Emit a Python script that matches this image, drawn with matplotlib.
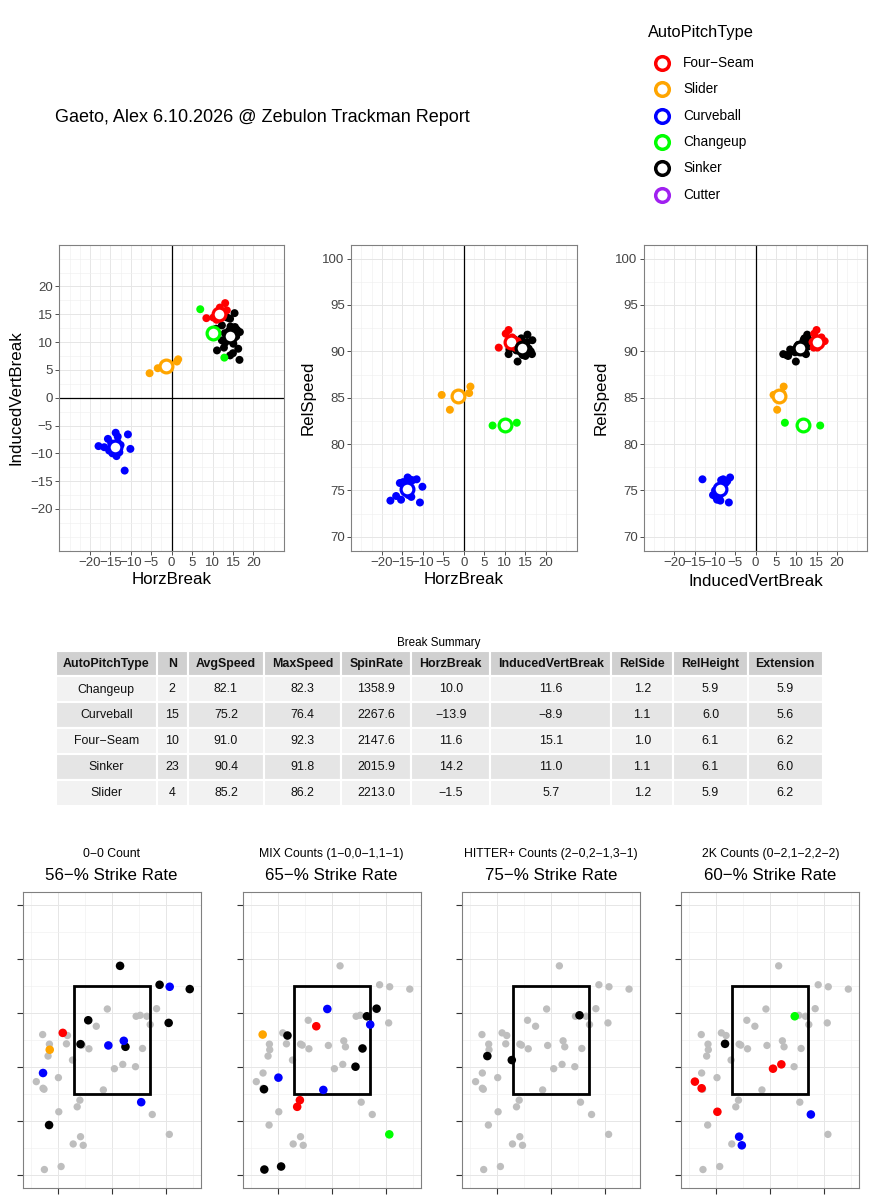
import matplotlib
matplotlib.use("Agg")
import matplotlib.pyplot as plt
from matplotlib.patches import Rectangle
from matplotlib.ticker import FixedLocator
import numpy as np

plt.rcParams['font.family'] = ['Liberation Sans', 'DejaVu Sans']
plt.rcParams['axes.unicode_minus'] = True

# ---------------- data ----------------
TITLE = "Gaeto, Alex 6.10.2026 @ Zebulon Trackman Report"
legend_types = ["Four−Seam", "Slider", "Curveball", "Changeup", "Sinker", "Cutter"]
type_colors = {"Four−Seam": "#FF0000", "Slider": "#FFA500", "Curveball": "#0000FF",
               "Changeup": "#00FF00", "Sinker": "#000000", "Cutter": "#A020F0"}

# pitch-level break data (HorzBreak, InducedVertBreak, RelSpeed)
changeup_hb = [7.0, 12.9]
changeup_ivb = [15.9, 7.2]
changeup_velo = [82.0, 82.3]

curveball_hb = [-17.9, -16.5, -15.3, -15.6, -14.8, -13.7, -13.2, -12.5, -11.5, -10.7, -10.1, -13.5, -14.5, -12.8, -13.2]
curveball_ivb = [-8.7, -8.9, -9.5, -7.4, -8.2, -6.3, -8.0, -8.5, -13.1, -6.6, -9.2, -10.5, -10.0, -9.8, -7.0]
curveball_velo = [73.9, 74.4, 74.0, 75.8, 75.9, 76.4, 76.2, 76.1, 76.2, 73.7, 75.4, 74.5, 75.0, 74.3, 76.0]

fourseam_hb = [8.5, 10.2, 10.9, 13.1, 13.5, 11.8, 12.0, 11.0, 12.5, 12.2]
fourseam_ivb = [14.3, 14.4, 15.0, 17.0, 15.7, 16.2, 14.8, 14.0, 15.2, 14.6]
fourseam_velo = [90.4, 91.9, 92.3, 91.1, 90.8, 91.5, 90.6, 91.0, 90.4, 90.9]

sinker_hb = [15.4, 14.3, 12.3, 11.1, 16.6, 14.3, 16.3, 15.5, 16.7, 12.3, 15.1, 13.1,
             10.9, 14.0, 13.5, 15.8, 16.0, 13.0, 12.8, 14.8, 13.6, 15.0, 14.4]
sinker_ivb = [15.2, 14.2, 13.0, 8.5, 6.8, 7.6, 8.8, 12.7, 11.8, 10.3, 9.7, 9.9,
              12.4, 12.0, 11.5, 11.0, 12.2, 11.6, 9.0, 10.5, 14.4, 8.0, 12.8]
sinker_velo = [91.0, 90.8, 91.3, 90.2, 89.7, 89.6, 90.0, 91.8, 91.2, 90.5, 89.9, 88.9,
               89.7, 91.4, 90.6, 90.3, 89.8, 90.9, 90.1, 90.7, 91.1, 89.5, 90.5]

slider_hb = [-5.4, -3.4, 1.3, 1.6]
slider_ivb = [4.4, 5.3, 6.5, 6.9]
slider_velo = [85.3, 83.7, 85.5, 86.2]

break_data = {
    "Sinker": (sinker_hb, sinker_ivb, sinker_velo),
    "Curveball": (curveball_hb, curveball_ivb, curveball_velo),
    "Slider": (slider_hb, slider_ivb, slider_velo),
    "Four−Seam": (fourseam_hb, fourseam_ivb, fourseam_velo),
    "Changeup": (changeup_hb, changeup_ivb, changeup_velo),
}

# summary table
tbl_columns = ["AutoPitchType", "N", "AvgSpeed", "MaxSpeed", "SpinRate", "HorzBreak",
               "InducedVertBreak", "RelSide", "RelHeight", "Extension"]
tbl_types = ["Changeup", "Curveball", "Four−Seam", "Sinker", "Slider"]
tbl_n = [2, 15, 10, 23, 4]
tbl_avgspeed = [82.1, 75.2, 91.0, 90.4, 85.2]
tbl_maxspeed = [82.3, 76.4, 92.3, 91.8, 86.2]
tbl_spin = [1358.9, 2267.6, 2147.6, 2015.9, 2213.0]
tbl_hb = [10.0, -13.9, 11.6, 14.2, -1.5]
tbl_ivb = [11.6, -8.9, 15.1, 11.0, 5.7]
tbl_relside = [1.2, 1.1, 1.0, 1.1, 1.2]
tbl_relheight = [5.9, 6.0, 6.1, 6.1, 5.9]
tbl_ext = [5.9, 5.6, 6.2, 6.0, 6.2]

# pitch locations
loc_x = [0.155, 0.888, 1.447, -0.435, 1.056, -0.578, 0.255, -1.161,
         1.075, -0.062, 0.224, -1.273, 0.547, -0.907, -1.149,
         0.832, 0.652, -0.820, 0.571, 0.441, -1.255, -1.248, -0.938,
         -0.081, 0.714, -0.988, -0.155, -0.286, -0.590, -0.640, -1.280, 1.068,
         0.528, -1.180, -0.727,
         -0.839, 0.453, 0.050, 0.205, -1.398, -1.273, -0.981, -0.578, -0.528, 0.752,
         -1.155, -0.547, -0.422, -0.714]
loc_y = [3.875, 3.524, 3.444, 2.866, 2.817, 2.423, 2.374, 0.923,
         3.487, 2.399, 2.485, 1.888, 1.347, 2.632, 2.319,
         3.081, 2.940, 2.583, 2.343, 2.005, 1.587, 0.098, 0.154,
         3.075, 2.786, 1.802, 1.574, 2.755, 1.384, 1.261, 2.601, 0.750,
         2.958, 2.202, 2.128,
         2.429, 2.940, 1.968, 2.048, 1.728, 1.605, 1.169, 0.707, 0.547, 1.119,
         2.423, 2.405, 2.337, 0.572]
loc_type = (["Sinker"] * 8 + ["Curveball"] * 5 + ["Four−Seam", "Slider"]
            + ["Sinker"] * 8 + ["Curveball"] * 4 + ["Four−Seam"] * 3 + ["Slider", "Changeup"]
            + ["Sinker"] * 3
            + ["Sinker", "Changeup"] + ["Four−Seam"] * 5 + ["Curveball"] * 3
            + ["Slider", "Sinker", "Curveball", "Slider"])
loc_group = (["0-0"] * 15 + ["MIX"] * 17 + ["HITTER+"] * 3 + ["2K"] * 10 + ["OTHER"] * 4)

count_groups = ["0-0", "MIX", "HITTER+", "2K"]
count_subtitles = ["0−0 Count", "MIX Counts (1−0,0−1,1−1)",
                   "HITTER+ Counts (2−0,2−1,3−1)", "2K Counts (0−2,1−2,2−2)"]
strike_rates = [56, 65, 75, 60]

# ---------------- figure ----------------
W, H = 878, 1200
fig = plt.figure(figsize=(W / 100, H / 100), dpi=100)
fig.patch.set_facecolor("white")


def px_axes(left, top, right, bottom):
    return fig.add_axes([left / W, 1 - bottom / H, (right - left) / W, (bottom - top) / H])


overlay = fig.add_axes([0, 0, 1, 1])
overlay.set_xlim(0, W)
overlay.set_ylim(H, 0)
overlay.axis("off")
overlay.patch.set_visible(False)

# title
overlay.text(55, 117, TITLE, fontsize=13, ha="left", va="center", color="black")

# legend
overlay.text(648, 33, "AutoPitchType", fontsize=11.8, ha="left", va="center")
for i, t in enumerate(legend_types):
    yy = 62.7 + i * 26.4
    overlay.plot([662], [yy], "o", ms=9.8, mfc="white", mec=type_colors[t], mew=2.5)
    overlay.text(683, yy, t, fontsize=9.8, ha="left", va="center")

GRID_MAJ = "#E6E6E6"
GRID_MIN = "#F0F0F0"


def style_axes(ax):
    for s in ax.spines.values():
        s.set_color("#808080")
        s.set_linewidth(0.8)
    ax.set_axisbelow(True)
    ax.grid(which="major", color=GRID_MAJ, lw=0.7)
    ax.grid(which="minor", color=GRID_MIN, lw=0.45)
    ax.tick_params(which="major", length=2.75, width=0.6, color="#333333",
                   labelsize=9.5, labelcolor="#444444", pad=1.8)
    ax.tick_params(which="minor", length=0)


def break_panel(ax, xi, yi, ylim, yticks, yminor, hline):
    for t, arrs in break_data.items():
        ax.scatter(arrs[xi], arrs[yi], s=33, color=type_colors[t], edgecolors="none", zorder=3)
    means = {0: tbl_hb, 1: tbl_ivb, 2: tbl_avgspeed}
    for k, t in enumerate(tbl_types):
        ax.plot([means[xi][k]], [means[yi][k]], "o", ms=9.2, mfc="white",
                mec=type_colors[t], mew=2.3, zorder=4)
    ax.set_xlim(-27.5, 27.5)
    ax.set_ylim(*ylim)
    ax.set_xticks(np.arange(-20, 21, 5))
    ax.set_yticks(yticks)
    ax.xaxis.set_minor_locator(FixedLocator(np.arange(-25, 25.1, 2.5)))
    ax.yaxis.set_minor_locator(FixedLocator(yminor))
    ax.axvline(0, color="black", lw=0.9, zorder=2)
    if hline:
        ax.axhline(0, color="black", lw=0.9, zorder=2)
    style_axes(ax)


top, bot = 244.7, 550.7
ax1 = px_axes(59.3, top, 284, bot)
break_panel(ax1, 0, 1, (-27.5, 27.5), np.arange(-20, 21, 5), np.arange(-25, 25.1, 2.5), True)
ax2 = px_axes(351, top, 576.7, bot)
break_panel(ax2, 0, 2, (68.5, 101.5), np.arange(70, 101, 5), np.arange(70, 100.1, 2.5), False)
ax3 = px_axes(644, top, 867.3, bot)
break_panel(ax3, 1, 2, (68.5, 101.5), np.arange(70, 101, 5), np.arange(70, 100.1, 2.5), False)

# axis titles
overlay.text(171.6, 580, "HorzBreak", fontsize=12.2, ha="center", va="center")
overlay.text(463.8, 580, "HorzBreak", fontsize=12.2, ha="center", va="center")
overlay.text(755.6, 581, "InducedVertBreak", fontsize=12.2, ha="center", va="center")
overlay.text(16, 397.7, "InducedVertBreak", fontsize=12.2, ha="center", va="center", rotation=90)
overlay.text(308, 397.7, "RelSpeed", fontsize=12.2, ha="center", va="center", rotation=90)
overlay.text(601, 397.7, "RelSpeed", fontsize=12.2, ha="center", va="center", rotation=90)

# ---------------- table ----------------
overlay.text(439, 643, "Break Summary", fontsize=8.4, ha="center", va="center")
col_widths = [101, 31, 76.5, 77, 70, 79, 121, 62, 74.5, 75.2]
col_edges = 55.7 + np.concatenate([[0], np.cumsum(col_widths)])
header_top, header_h, row_h = 650.5, 25.5, 26.0


def fmt(v):
    return f"{v:.1f}".replace("-", "−")


rows = []
for k in range(len(tbl_types)):
    rows.append([tbl_types[k], str(tbl_n[k]), fmt(tbl_avgspeed[k]), fmt(tbl_maxspeed[k]),
                 fmt(tbl_spin[k]), fmt(tbl_hb[k]), fmt(tbl_ivb[k]), fmt(tbl_relside[k]),
                 fmt(tbl_relheight[k]), fmt(tbl_ext[k])])

for c, name in enumerate(tbl_columns):
    x0, x1 = col_edges[c], col_edges[c + 1]
    overlay.add_patch(Rectangle((x0, header_top), x1 - x0, header_h, facecolor="#D0D0D0",
                                edgecolor="white", lw=1.5))
    overlay.text((x0 + x1) / 2, header_top + header_h / 2 + 0.5, name, fontsize=8.9,
                 fontweight="bold", ha="center", va="center", color="#111111")
for r, row in enumerate(rows):
    y0 = header_top + header_h + r * row_h
    fc = "#F2F2F2" if r % 2 == 0 else "#E5E5E5"
    for c, val in enumerate(row):
        x0, x1 = col_edges[c], col_edges[c + 1]
        overlay.add_patch(Rectangle((x0, y0), x1 - x0, row_h, facecolor=fc,
                                    edgecolor="white", lw=1.5))
        overlay.text((x0 + x1) / 2, y0 + row_h / 2 + 0.5, val, fontsize=8.9,
                     ha="center", va="center", color="#111111")

# ---------------- location panels ----------------
loc_x_arr = np.array(loc_x)
loc_y_arr = np.array(loc_y)
loc_type_arr = np.array(loc_type)
loc_group_arr = np.array(loc_group)
panel_lefts = [22.7, 242.7, 462.0, 681.3]
panel_w = 178.0
ptop, pbot = 891.7, 1188.3
for g, grp in enumerate(count_groups):
    L = panel_lefts[g]
    ax = px_axes(L, ptop, L + panel_w, pbot)
    ax.scatter(loc_x_arr, loc_y_arr, s=28, color="#BEBEBE", edgecolors="none", zorder=2)
    ax.add_patch(Rectangle((-0.708, 1.5), 1.416, 2.0, fill=False, ec="black", lw=2.0, zorder=3))
    sel = loc_group_arr == grp
    cols = [type_colors[t] for t in loc_type_arr[sel]]
    ax.scatter(loc_x_arr[sel], loc_y_arr[sel], s=38, c=cols, edgecolors="none", zorder=4)
    ax.set_xlim(-1.65, 1.65)
    ax.set_ylim(-0.25, 5.25)
    ax.set_xticks([-1, 0, 1])
    ax.set_yticks(np.arange(0, 6, 1))
    ax.xaxis.set_minor_locator(FixedLocator([-1.5, -0.5, 0.5, 1.5]))
    ax.yaxis.set_minor_locator(FixedLocator(np.arange(0.5, 5.0, 1.0)))
    style_axes(ax)
    ax.set_xticklabels([])
    ax.set_yticklabels([])
    ax.tick_params(which="major", length=4, width=0.8)
    cx = L + panel_w / 2
    overlay.text(cx, 854, count_subtitles[g], fontsize=8.8, ha="center", va="center")
    overlay.text(cx, 875, f"{strike_rates[g]}−% Strike Rate", fontsize=12.2, ha="center", va="center")

overlay.set_zorder(10)
fig.savefig("out.png", dpi=100, facecolor="white")
